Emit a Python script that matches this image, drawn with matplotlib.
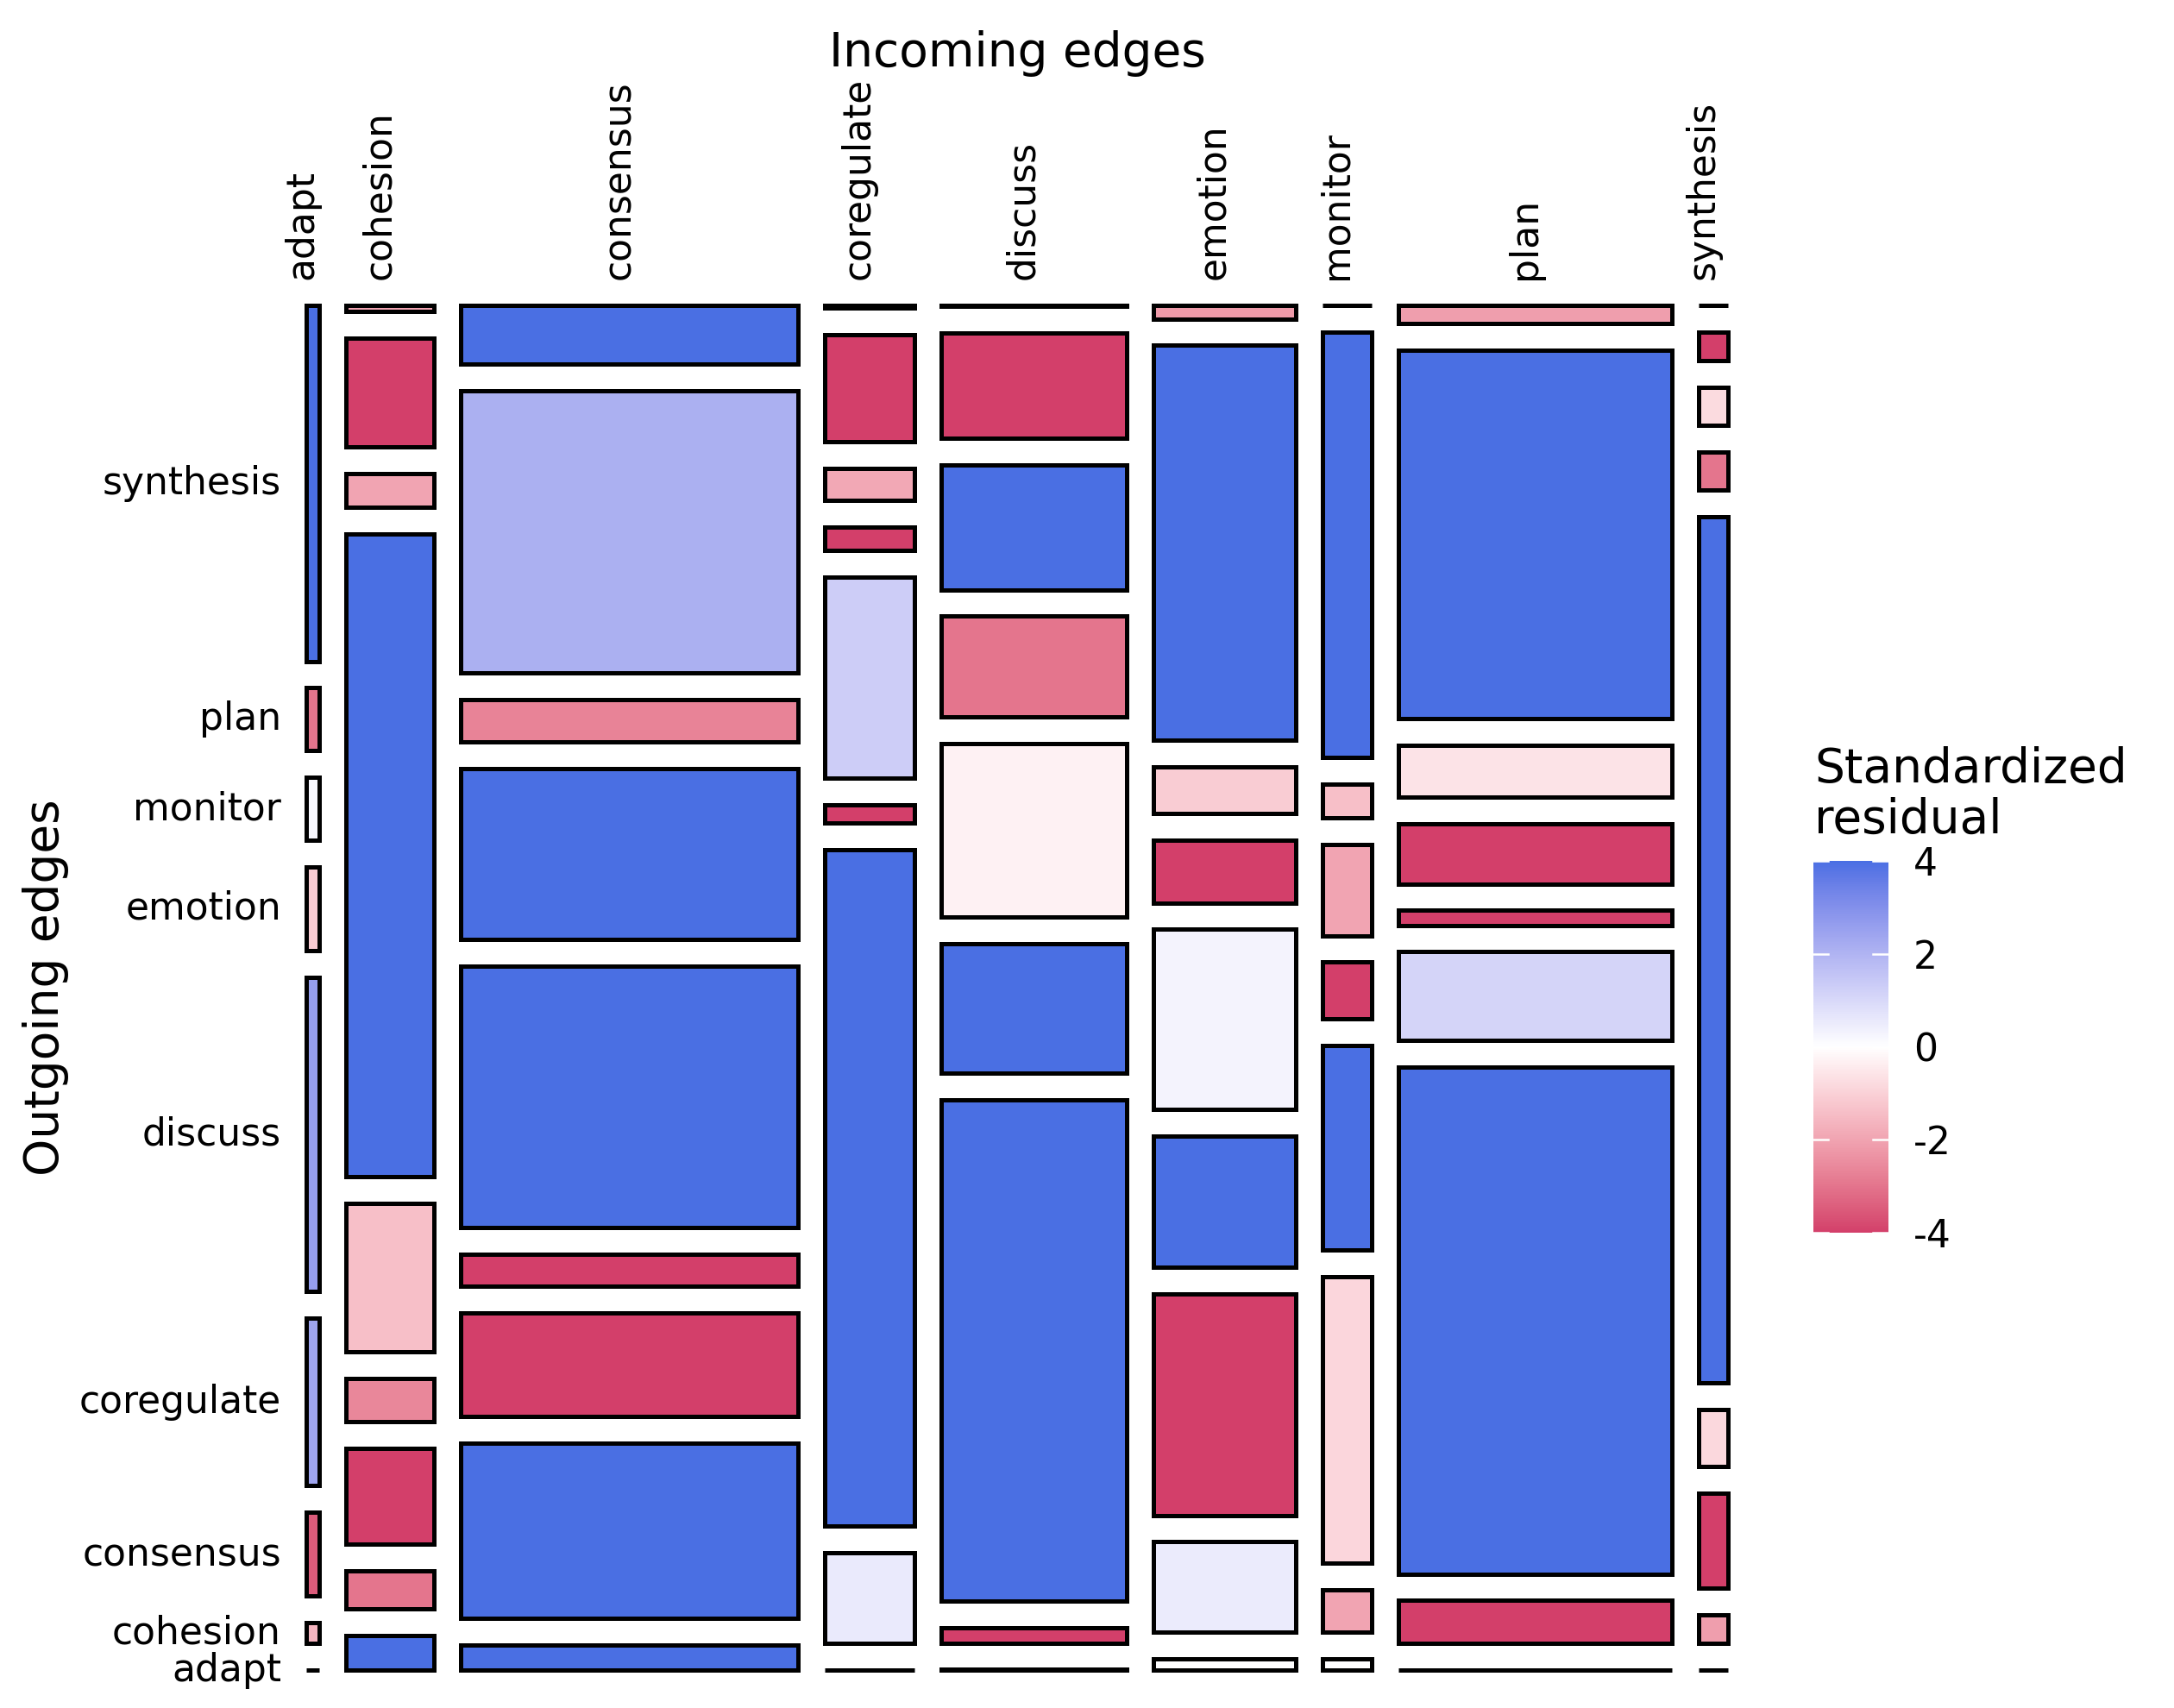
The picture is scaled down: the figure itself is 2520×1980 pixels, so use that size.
import numpy as np
import matplotlib
matplotlib.use("Agg")
import matplotlib.pyplot as plt
from matplotlib.colors import ListedColormap, Normalize, to_rgb
from matplotlib.patches import Rectangle
from matplotlib.cm import ScalarMappable

plt.rcParams['font.family'] = ['DejaVu Sans']
plt.rcParams['axes.unicode_minus'] = False

# states, in stacking order (bottom to top / left to right)
states = ['adapt', 'cohesion', 'consensus', 'coregulate', 'discuss',
          'emotion', 'monitor', 'plan', 'synthesis']

# transition counts: rows = outgoing (from), columns = incoming (to)
counts = [
    [0,   22,  61,   0,   1,   12,  4,   0,   0],    # adapt
    [2,   24,  425,  59,  20,  92,  15,  85,  6],    # cohesion
    [8,   61,  250,  437, 668, 226, 101, 997, 20],   # consensus
    [16,  27,  78,   12,  172, 134, 72,  175, 12],   # coregulate
    [30,  94,  634,  130, 231, 184, 20,  29,  182],  # discuss
    [8,   407, 414,  15,  134, 64,  32,  118, 8],    # emotion
    [6,   21,  102,  21,  166, 48,  12,  103, 8],    # monitor
    [6,   69,  684,  69,  140, 403, 150, 725, 6],    # plan
    [34,  4,   143,  2,   2,   14,  0,   36,  0],    # synthesis
]

# standardized residuals, same layout as counts
residuals = [
    [-1.0,  4.0,  4.0, -1.0, -1.0,  0.0,  0.0, -1.0, -1.0],
    [-1.6, -3.0,  4.0,  0.55, -4.0, 0.5, -2.0, -4.0, -2.1],
    [-3.5, -4.0, -4.0,  4.0,  4.0, -4.0, -0.9,  4.0, -4.0],
    [2.4, -2.6, -4.0, -4.0,  4.0,  4.0,  4.0,  1.1, -0.85],
    [2.6, -1.4,  4.0,  1.3, -0.3,  0.3, -4.0, -4.0,  4.0],
    [-1.1,  4.0,  4.0, -4.0, -3.0, -4.0, -2.0, -4.0, -3.0],
    [0.2, -2.0, -2.7, -1.9,  4.0, -1.1, -1.4, -0.6, -0.8],
    [-3.0, -4.0,  2.1, -4.0, -4.0,  4.0,  4.0,  4.0, -4.0],
    [4.0, -2.0,  4.0, -2.0, -4.0, -2.2, -2.0, -2.1, -2.0],
]

legend_ticks = [-4, -2, 0, 2, 4]

GAP_X = 0.019
GAP_Y = 0.0195

# --- diverging gradient interpolated in CIELAB (like ggplot's gradient2)
M = np.array([[0.4124564, 0.3575761, 0.1804375],
              [0.2126729, 0.7151522, 0.0721750],
              [0.0193339, 0.1191920, 0.9503041]])
WHITE = np.array([0.95047, 1.0, 1.08883])


def to_lab(hexc):
    rgb = np.array(to_rgb(hexc))
    lin = np.where(rgb <= 0.04045, rgb / 12.92, ((rgb + 0.055) / 1.055) ** 2.4)
    xyz = M @ lin / WHITE
    f = np.where(xyz > (6 / 29) ** 3, np.cbrt(xyz), xyz / (3 * (6 / 29) ** 2) + 4 / 29)
    return np.array([116 * f[1] - 16, 500 * (f[0] - f[1]), 200 * (f[1] - f[2])])


def from_lab(lab):
    fy = (lab[:, 0] + 16) / 116
    fx = fy + lab[:, 1] / 500
    fz = fy - lab[:, 2] / 200
    f = np.stack([fx, fy, fz], axis=1)
    xyz = np.where(f > 6 / 29, f ** 3, 3 * (6 / 29) ** 2 * (f - 4 / 29)) * WHITE
    lin = np.clip(xyz @ np.linalg.inv(M).T, 0, None)
    rgb = np.where(lin <= 0.0031308, 12.92 * lin, 1.055 * lin ** (1 / 2.4) - 0.055)
    return np.clip(rgb, 0, 1)


low, mid, high = to_lab('#D33F6A'), to_lab('#FFFFFF'), to_lab('#4A6FE3')
t = np.linspace(-1, 1, 256)[:, None]
labs = np.where(t < 0, mid + (-t) * (low - mid), mid + t * (high - mid))
cmap = ListedColormap(from_lab(labs))
norm = Normalize(-4, 4)

counts = np.array(counts, dtype=float)
res = np.clip(np.array(residuals), -4, 4)
n = len(states)

fig = plt.figure(figsize=(7, 5.5), dpi=360)
W, H = 2520, 1980
ax = fig.add_axes([354.5 / W, 1 - 1936.3 / H, 1648.7 / W, 1582.6 / H])
ax.set_xlim(0, 1)
ax.set_ylim(0, 1)
ax.axis('off')

col_tot = counts.sum(axis=0)
widths = col_tot / col_tot.sum() * (1 - GAP_X * (n - 1))

x0 = 0
first_centers = []
for j in range(n):
    fr = counts[:, j] / col_tot[j] * (1 - GAP_Y * (n - 1))
    y0 = 0
    for i in range(n):
        ax.add_patch(Rectangle((x0, y0), widths[j], fr[i],
                               facecolor=cmap(norm(res[i, j])),
                               edgecolor='black', linewidth=1.0,
                               clip_on=False))
        if j == 0:
            first_centers.append(y0 + fr[i] / 2)
        y0 += fr[i] + GAP_Y
    ax.text(x0 + widths[j] / 2, 1 + 30 / 1582.6, states[j],
            transform=ax.get_xaxis_transform(), rotation=90,
            rotation_mode='anchor', ha='left', va='baseline', fontsize=8.8)
    x0 += widths[j] + GAP_X

for i in range(n):
    ax.text(-28.5 / 1648.7, first_centers[i], states[i],
            transform=ax.get_yaxis_transform(), ha='right', va='center',
            fontsize=8.8)

fig.text(1178.9 / W, 1 - 77.3 / H, 'Incoming edges', ha='center',
         va='baseline', fontsize=11)
fig.text(68 / W, 1 - 1145 / H, 'Outgoing edges', ha='center',
         va='baseline', rotation=90, rotation_mode='anchor', fontsize=11)

# colour bar legend
cax = fig.add_axes([2102 / W, 1 - 1429 / H, 86.5 / W, 431 / H])
cb = fig.colorbar(ScalarMappable(norm=norm, cmap=cmap), cax=cax)
cb.outline.set_visible(False)
cb.set_ticks(legend_ticks)
cb.set_ticklabels([str(v) for v in legend_ticks])
cax.tick_params(length=0, pad=5.9, labelsize=8.8)
for v in legend_ticks:
    cax.plot([0, 0.2], [v, v], color='white', lw=0.5)
    cax.plot([0.8, 1], [v, v], color='white', lw=0.5)

fig.text(2103 / W, 1 - 907 / H, 'Standardized', ha='left', va='baseline',
         fontsize=11)
fig.text(2103 / W, 1 - 966 / H, 'residual', ha='left', va='baseline',
         fontsize=11)

fig.savefig('out.png', dpi=360)
